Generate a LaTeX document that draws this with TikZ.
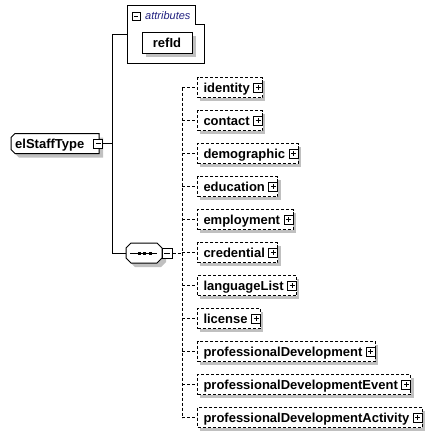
\documentclass[tikz,border=0pt]{standalone}
\usepackage{fontspec}
\setmainfont{Liberation Sans}
\definecolor{shadowc}{HTML}{C0C0C0}
\definecolor{attrblue}{HTML}{202080}
\tikzset{
  lblfont/.style={font=\fontsize{13}{15}\selectfont\bfseries},
  childbase/.style={minimum height=20pt, inner xsep=6pt, inner ysep=0pt,
    text height=12.2pt, text depth=3pt, anchor=west, lblfont},
  childel/.style={childbase, draw, line width=1pt, dash pattern=on 3pt off 2pt, fill=white},
  childshadow/.style={childbase, fill=shadowc},
  sgn/.style={draw, line width=1pt, fill=white, minimum size=9pt, inner sep=0pt},
  plusbox/.style={sgn, path picture={\draw[line width=1pt]
     ([xshift=2pt]path picture bounding box.west) -- ([xshift=-2pt]path picture bounding box.east)
     ([yshift=-2pt]path picture bounding box.north) -- ([yshift=2pt]path picture bounding box.south);}},
  minusbox/.style={sgn, path picture={\draw[line width=1pt]
     ([xshift=2pt]path picture bounding box.west) -- ([xshift=-2pt]path picture bounding box.east);}},
  conn/.style={line width=1pt},
  dconn/.style={line width=1pt, dash pattern=on 3pt off 2pt},
}
\newcommand\childbox[3]{%
  \node[childshadow] (#1s) at (200,#2+3.5) {\phantom{#3}\rule{7pt}{0pt}};
  \node[childel] (#1) at (197,#2) {#3\rule{7pt}{0pt}};
  \node[plusbox] (#1p) at ([xshift=-5pt]#1.east) {};
  \draw[dconn] (#1.west -| ct) -- (#1.west);
}
\begin{document}
\begin{tikzpicture}[x=1pt,y=-1pt]
\useasboundingbox (0,0) rectangle (438,437);

% junction coordinates
\coordinate (jt) at (112,34);
\coordinate (jb) at (112,253);
\coordinate (ct) at (182,87.5);
\coordinate (cb) at (182,417.5);

% attributes container
\draw[conn] (127,5) -- (195,5) -- (195,24) -- (204,24) -- (204,63) -- (127,63) -- cycle;
\coordinate (attrL) at (127,34);
\node[minusbox, minimum size=8pt] (attrm) at (136,16) {};
\node[font=\fontsize{11}{13}\selectfont\itshape, text=attrblue, anchor=west, inner sep=0pt] (attrlbl) at (145,16) {attributes};
\fill[shadowc] (146,36) rectangle (196,57);
\node[draw, line width=1pt, fill=white, lblfont, minimum width=50pt, minimum height=21pt, inner sep=0pt,
  text height=12.2pt, text depth=3pt] (refId) at (167,42.5) {refId};

% element elStaffType
\fill[shadowc, xshift=4pt, yshift=-4pt] (11,137.5) -- (15,133.5) -- (99,133.5) -- (99,153.5) -- (15,153.5) -- (11,149.5) -- cycle;
\draw[conn, fill=white] (11,137.5) -- (15,133.5) -- (99,133.5) -- (99,153.5) -- (15,153.5) -- (11,149.5) -- cycle;
\node[lblfont, anchor=base west, inner sep=0pt] (el) at (15,148) {elStaffType};
\node[minusbox] (elm) at (98,143.5) {};

% sequence compositor
\fill[shadowc, xshift=4pt, yshift=-4pt] (126,248) -- (131,243) -- (157,243) -- (162,248) -- (162,258) -- (157,263) -- (131,263) -- (126,258) -- cycle;
\draw[conn, fill=white] (126,248) -- (131,243) -- (157,243) -- (162,248) -- (162,258) -- (157,263) -- (131,263) -- (126,258) -- cycle;
\coordinate (seqL) at (126,253);
\draw[conn] (130,253) -- (157,253);
\foreach \xx in {139,144.5,150} \fill (\xx-1.5,251.5) rectangle (\xx+1.5,254.5);
\node[minusbox, minimum size=10pt] (seqm) at (167,253) {};

% solid connectors
\draw[conn] (elm.east) -- (elm.east -| jt);
\draw[conn] (attrL) -- (jt) -- (jb) -- (seqL);

% dashed trunk
\draw[dconn] (seqm.east) -- (seqm.east -| ct);
\draw[dconn] (ct) -- (cb);

\childbox{identity}{87.5}{identity}
\childbox{contact}{120.5}{contact}
\childbox{demographic}{153.5}{demographic}
\childbox{education}{186.5}{education}
\childbox{employment}{219.5}{employment}
\childbox{credential}{252.5}{credential}
\childbox{languageList}{285.5}{languageList}
\childbox{license}{318.5}{license}
\childbox{profDev}{351.5}{professionalDevelopment}
\childbox{profDevEvent}{384.5}{professionalDevelopmentEvent}
\childbox{profDevActivity}{417.5}{professionalDevelopmentActivity}
\end{tikzpicture}
\end{document}
